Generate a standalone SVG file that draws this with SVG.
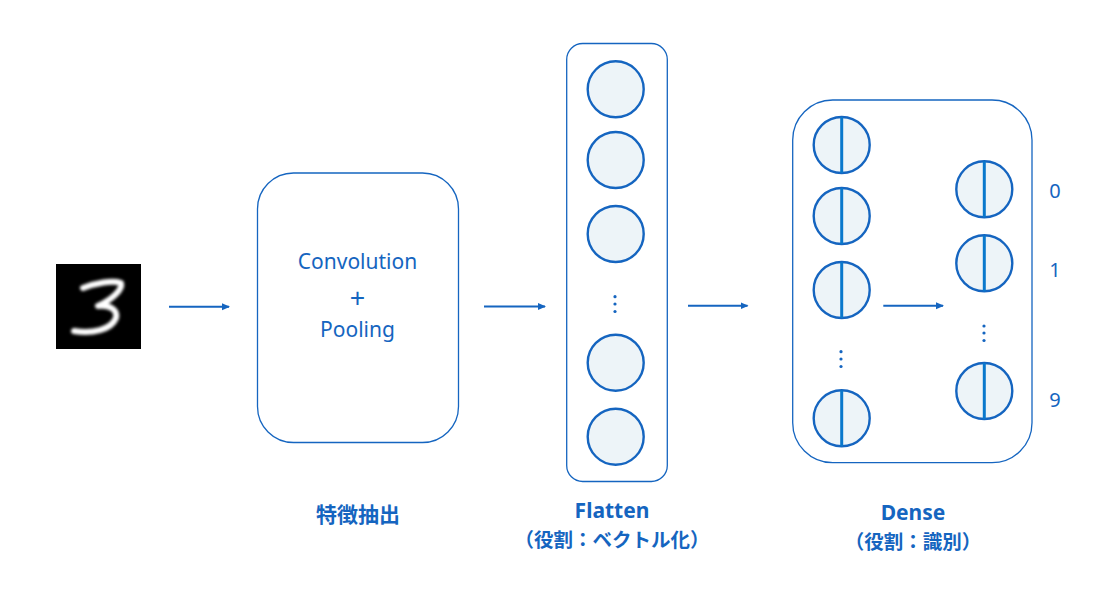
<svg xmlns="http://www.w3.org/2000/svg" width="1098" height="610" viewBox="0 0 1098 610">
<style>
.box{fill:#fff;stroke:#1565C0;stroke-width:1.3}
.n{fill:#EDF4F8;stroke:#1565C0;stroke-width:2.4}
.bar{stroke:#0A78CC;stroke-width:3}
.dot{fill:#1565C0}
.conn{stroke:#1565C0;stroke-width:2;fill:none}
.t{font-family:"Noto Sans CJK JP","Noto Sans",sans-serif;fill:#1565C0;text-anchor:middle;font-weight:bold}
.lbl{font-size:21px}
.en{font-family:"Noto Sans","Noto Sans CJK JP",sans-serif;font-size:21px}
.sub{font-size:19.5px}
.in{font-family:"Noto Sans","Noto Sans CJK JP",sans-serif;font-size:21px;fill:#1565C0;text-anchor:middle}
.plus{font-size:27px}
.num{font-family:"Noto Sans","Noto Sans CJK JP",sans-serif;font-size:20px;fill:#1565C0;text-anchor:middle}
</style>
<defs>
<marker id="ah" markerWidth="8" markerHeight="8" refX="7" refY="4" orient="auto" markerUnits="userSpaceOnUse">
<path d="M0,0.5 L8,4 L0,7.5 Z" fill="#1565C0"/>
</marker>
<filter id="blur" x="-20%" y="-20%" width="140%" height="140%"><feGaussianBlur stdDeviation="1.4"/></filter>
</defs>

<g id="input">
<rect x="56" y="264" width="85" height="85" fill="#000"/>
<path d="M83,288 C96,283 112,280 121,283 C123,290 111,300 98,306 C109,305 118,309 116,318 C111,330 92,334 74,331" fill="none" stroke="#fff" stroke-width="6" stroke-linecap="round" stroke-linejoin="round" filter="url(#blur)"/>
</g>

<g id="conv">
<rect class="box" x="257.5" y="173" width="201" height="269.5" rx="36"/>
<text class="in" x="357.5" y="269">Convolution</text>
<text class="in plus" x="357.5" y="308">+</text>
<text class="in" x="357.5" y="337">Pooling</text>
</g>

<g id="flatten">
<rect class="box" x="566.7" y="43.5" width="100.6" height="438" rx="16"/>
<circle class="n" cx="615.7" cy="89.3" r="28"/>
<circle class="n" cx="615.7" cy="160" r="28"/>
<circle class="n" cx="615.7" cy="234" r="28"/>
<circle class="dot" cx="615" cy="296.7" r="1.6"/>
<circle class="dot" cx="615" cy="304" r="1.6"/>
<circle class="dot" cx="615" cy="311.5" r="1.6"/>
<circle class="n" cx="615.7" cy="362.7" r="28"/>
<circle class="n" cx="615.7" cy="436.7" r="28"/>
</g>

<g id="dense">
<rect class="box" x="792.7" y="100" width="239.3" height="362.7" rx="40"/>
<circle class="n" cx="841.7" cy="145" r="28"/><line class="bar" x1="841.7" y1="117" x2="841.7" y2="173"/>
<circle class="n" cx="841.7" cy="216" r="28"/><line class="bar" x1="841.7" y1="188" x2="841.7" y2="244"/>
<circle class="n" cx="841.7" cy="290" r="28"/><line class="bar" x1="841.7" y1="262" x2="841.7" y2="318"/>
<circle class="dot" cx="841" cy="351.7" r="1.6"/>
<circle class="dot" cx="841" cy="359" r="1.6"/>
<circle class="dot" cx="841" cy="366.5" r="1.6"/>
<circle class="n" cx="841.7" cy="418.3" r="28"/><line class="bar" x1="841.7" y1="390.3" x2="841.7" y2="446.3"/>
<circle class="n" cx="984.3" cy="189.3" r="28"/><line class="bar" x1="984.3" y1="161.3" x2="984.3" y2="217.3"/>
<circle class="n" cx="984.3" cy="263.3" r="28"/><line class="bar" x1="984.3" y1="235.3" x2="984.3" y2="291.3"/>
<circle class="dot" cx="984" cy="326" r="1.6"/>
<circle class="dot" cx="984" cy="333" r="1.6"/>
<circle class="dot" cx="984" cy="340.5" r="1.6"/>
<circle class="n" cx="984.3" cy="391" r="28"/><line class="bar" x1="984.3" y1="363" x2="984.3" y2="419"/>
</g>

<g id="outputs">
<text class="num" x="1055" y="198">0</text>
<text class="num" x="1055" y="277">1</text>
<text class="num" x="1055" y="407">9</text>
</g>

<g id="connectors">
<line class="conn" x1="169" y1="306.7" x2="229" y2="306.7" marker-end="url(#ah)"/>
<line class="conn" x1="484" y1="306.5" x2="545" y2="306.5" marker-end="url(#ah)"/>
<line class="conn" x1="688" y1="305.7" x2="747.5" y2="305.7" marker-end="url(#ah)"/>
<line class="conn" x1="883.3" y1="305.7" x2="943" y2="305.7" marker-end="url(#ah)"/>
</g>

<g id="labels">
<text class="t lbl" x="358" y="522">特徴抽出</text>
<text class="t en" x="612" y="518">Flatten</text>
<text class="t sub" x="612" y="547">（役割：ベクトル化）</text>
<text class="t en" x="913" y="520">Dense</text>
<text class="t sub" x="913" y="549">（役割：識別）</text>
</g>
</svg>
